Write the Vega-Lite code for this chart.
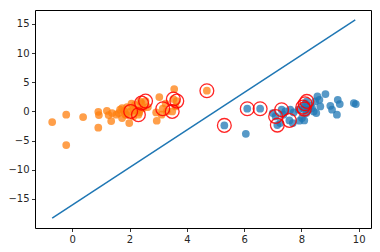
{
  "$schema": "https://vega.github.io/schema/vega-lite/v6.json",
  "width": 336,
  "height": 218,
  "autosize": {"type": "none"},
  "padding": {"left": 35, "top": 10, "right": 9, "bottom": 24},
  "background": "white",
  "config": {
    "view": {"stroke": "black", "strokeWidth": 1},
    "axis": {
      "grid": false, "domain": false, "tickColor": "black", "tickSize": 3.5, "tickWidth": 0.8,
      "labelFont": "DejaVu Sans", "labelFontSize": 10, "labelColor": "#262626", "labelPadding": 2.5, "title": null,
      "labelFlush": false
    }
  },
  "datasets": {
    "pts": [
      {"x": -0.70, "y": -1.83, "c": "orange", "sv": false},
      {"x": -0.21, "y": -0.57, "c": "orange", "sv": false},
      {"x": -0.21, "y": -5.78, "c": "orange", "sv": false},
      {"x": 0.38, "y": -0.97, "c": "orange", "sv": false},
      {"x": 0.91, "y": -0.06, "c": "orange", "sv": false},
      {"x": 0.93, "y": -0.63, "c": "orange", "sv": false},
      {"x": 0.91, "y": -2.80, "c": "orange", "sv": false},
      {"x": 1.21, "y": 0.11, "c": "orange", "sv": false},
      {"x": 1.27, "y": -0.63, "c": "orange", "sv": false},
      {"x": 1.39, "y": -0.29, "c": "orange", "sv": false},
      {"x": 1.36, "y": -1.66, "c": "orange", "sv": false},
      {"x": 1.54, "y": -0.57, "c": "orange", "sv": false},
      {"x": 1.62, "y": -0.29, "c": "orange", "sv": false},
      {"x": 1.67, "y": 0.29, "c": "orange", "sv": false},
      {"x": 1.74, "y": 0.57, "c": "orange", "sv": false},
      {"x": 1.74, "y": -1.14, "c": "orange", "sv": false},
      {"x": 1.81, "y": 0.06, "c": "orange", "sv": false},
      {"x": 1.86, "y": -0.57, "c": "orange", "sv": false},
      {"x": 1.90, "y": -0.57, "c": "orange", "sv": false},
      {"x": 1.99, "y": -2.0, "c": "orange", "sv": false},
      {"x": 1.91, "y": 0.74, "c": "orange", "sv": false},
      {"x": 2.07, "y": 1.32, "c": "orange", "sv": false},
      {"x": 2.13, "y": 0.29, "c": "orange", "sv": false},
      {"x": 2.13, "y": -0.86, "c": "orange", "sv": false},
      {"x": 2.04, "y": 0.0, "c": "orange", "sv": true},
      {"x": 2.25, "y": 0.17, "c": "orange", "sv": false},
      {"x": 2.19, "y": 1.14, "c": "orange", "sv": false},
      {"x": 2.37, "y": 1.72, "c": "orange", "sv": false},
      {"x": 2.31, "y": -0.57, "c": "orange", "sv": true},
      {"x": 2.42, "y": 1.43, "c": "orange", "sv": true},
      {"x": 2.56, "y": 1.77, "c": "orange", "sv": true},
      {"x": 2.37, "y": 0.29, "c": "orange", "sv": false},
      {"x": 2.48, "y": 0.57, "c": "orange", "sv": false},
      {"x": 2.64, "y": 0.74, "c": "orange", "sv": false},
      {"x": 2.34, "y": -0.17, "c": "orange", "sv": false},
      {"x": 3.04, "y": 2.46, "c": "orange", "sv": false},
      {"x": 2.93, "y": -0.17, "c": "orange", "sv": false},
      {"x": 2.95, "y": -1.60, "c": "orange", "sv": false},
      {"x": 3.16, "y": 0.46, "c": "orange", "sv": true},
      {"x": 3.26, "y": 1.32, "c": "orange", "sv": false},
      {"x": 3.30, "y": 0.0, "c": "orange", "sv": false},
      {"x": 3.12, "y": -0.57, "c": "orange", "sv": false},
      {"x": 3.49, "y": 0.0, "c": "orange", "sv": true},
      {"x": 3.56, "y": 3.84, "c": "orange", "sv": false},
      {"x": 3.53, "y": 2.12, "c": "orange", "sv": true},
      {"x": 3.65, "y": 1.77, "c": "orange", "sv": true},
      {"x": 3.61, "y": 0.86, "c": "orange", "sv": false},
      {"x": 4.70, "y": 3.55, "c": "orange", "sv": true},
      {"x": 5.31, "y": -2.40, "c": "blue", "sv": true},
      {"x": 6.06, "y": -3.84, "c": "blue", "sv": false},
      {"x": 6.11, "y": 0.46, "c": "blue", "sv": true},
      {"x": 6.56, "y": 0.46, "c": "blue", "sv": true},
      {"x": 7.00, "y": -0.29, "c": "blue", "sv": false},
      {"x": 7.10, "y": -0.86, "c": "blue", "sv": true},
      {"x": 7.16, "y": -2.35, "c": "blue", "sv": true},
      {"x": 7.26, "y": -2.0, "c": "blue", "sv": false},
      {"x": 7.31, "y": 0.29, "c": "blue", "sv": true},
      {"x": 7.37, "y": -0.57, "c": "blue", "sv": false},
      {"x": 7.58, "y": -1.55, "c": "blue", "sv": true},
      {"x": 7.44, "y": 0.0, "c": "blue", "sv": false},
      {"x": 7.61, "y": 0.29, "c": "blue", "sv": false},
      {"x": 7.73, "y": -0.17, "c": "blue", "sv": false},
      {"x": 7.70, "y": -2.0, "c": "blue", "sv": false},
      {"x": 7.90, "y": 0.29, "c": "blue", "sv": false},
      {"x": 7.93, "y": -1.60, "c": "blue", "sv": false},
      {"x": 8.02, "y": -1.14, "c": "blue", "sv": false},
      {"x": 8.10, "y": -1.55, "c": "blue", "sv": false},
      {"x": 8.05, "y": 0.74, "c": "blue", "sv": true},
      {"x": 8.13, "y": 1.32, "c": "blue", "sv": true},
      {"x": 8.19, "y": 1.72, "c": "blue", "sv": true},
      {"x": 8.10, "y": 0.40, "c": "blue", "sv": true},
      {"x": 8.25, "y": 0.29, "c": "blue", "sv": false},
      {"x": 8.17, "y": -0.29, "c": "blue", "sv": false},
      {"x": 8.31, "y": 0.97, "c": "blue", "sv": false},
      {"x": 8.37, "y": 0.57, "c": "blue", "sv": false},
      {"x": 8.43, "y": 0.0, "c": "blue", "sv": false},
      {"x": 8.52, "y": -0.29, "c": "blue", "sv": false},
      {"x": 8.48, "y": 1.72, "c": "blue", "sv": false},
      {"x": 8.56, "y": 2.58, "c": "blue", "sv": false},
      {"x": 8.63, "y": 2.0, "c": "blue", "sv": false},
      {"x": 8.66, "y": 0.86, "c": "blue", "sv": false},
      {"x": 8.84, "y": 2.98, "c": "blue", "sv": false},
      {"x": 9.01, "y": 0.97, "c": "blue", "sv": false},
      {"x": 9.07, "y": 0.29, "c": "blue", "sv": false},
      {"x": 9.24, "y": -0.57, "c": "blue", "sv": false},
      {"x": 9.27, "y": 2.0, "c": "blue", "sv": false},
      {"x": 9.34, "y": 1.26, "c": "blue", "sv": false},
      {"x": 9.83, "y": 1.43, "c": "blue", "sv": false},
      {"x": 9.90, "y": 1.26, "c": "blue", "sv": false}
    ],
    "line": [
      {"x": -0.70, "y": -18.3},
      {"x": 9.88, "y": 15.7}
    ]
  },
  "layer": [
    {
      "data": {"name": "pts"},
      "mark": {"type": "circle", "size": 60, "opacity": 0.75},
      "encoding": {
        "x": {"field": "x", "type": "quantitative", "scale": {"domain": [-1.3, 10.43], "nice": false, "zero": false}, "axis": {"values": [0, 2, 4, 6, 8, 10], "tickCount": 20, "format": "d", "labelOverlap": false, "labelExpr": "replace(datum.label, '-', '−')"}},
        "y": {"field": "y", "type": "quantitative", "scale": {"domain": [-20.0, 17.4], "nice": false, "zero": false}, "axis": {"values": [-15, -10, -5, 0, 5, 10, 15], "tickCount": 20, "format": "d", "labelOverlap": false, "labelExpr": "replace(datum.label, '-', '−')"}},
        "color": {"field": "c", "type": "nominal", "scale": {"domain": ["blue", "orange"], "range": ["#1f77b4", "#ff7f0e"]}, "legend": null}
      }
    },
    {
      "data": {"name": "pts"},
      "transform": [{"filter": "datum.sv"}],
      "mark": {"type": "point", "shape": "circle", "size": 190, "filled": false, "stroke": "red", "strokeWidth": 1.3, "opacity": 0.85},
      "encoding": {
        "x": {"field": "x", "type": "quantitative"},
        "y": {"field": "y", "type": "quantitative"}
      }
    },
    {
      "data": {"name": "line"},
      "mark": {"type": "line", "color": "#1f77b4", "strokeWidth": 1.5},
      "encoding": {
        "x": {"field": "x", "type": "quantitative"},
        "y": {"field": "y", "type": "quantitative"}
      }
    }
  ]
}
